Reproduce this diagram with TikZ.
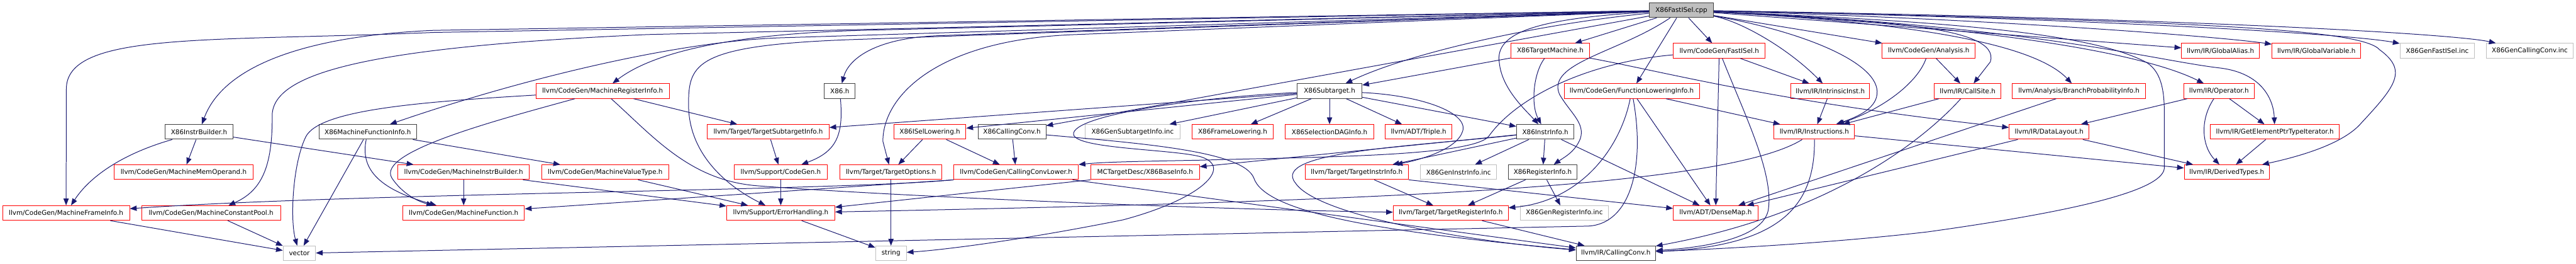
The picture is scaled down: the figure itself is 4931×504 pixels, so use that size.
\documentclass[tikz,border=0pt]{standalone}
\usepackage{fontspec}
\setmainfont{DejaVu Sans}
\usetikzlibrary{arrows.meta}
\definecolor{edgec}{HTML}{191970}
\definecolor{redc}{HTML}{FF0000}
\definecolor{grayc}{HTML}{BFBFBF}
\definecolor{blkc}{HTML}{404040}
\definecolor{rootfill}{HTML}{BFBFBF}
\newcommand{\dxfont}{\fontsize{6.25pt}{7.5pt}\selectfont}
\begin{document}
\begin{tikzpicture}[x=0.5pt,y=-0.5pt,
  nb/.style={draw, rectangle, inner sep=0pt, minimum height=14pt, line width=0.6pt, font=\dxfont, text=black},
  rn/.style={nb, draw=redc},
  bn/.style={nb, draw=blkc},
  gn/.style={nb, draw=grayc},
  rootn/.style={nb, draw=blkc, fill=rootfill},
  dep/.style={draw=edgec, line width=0.6pt, -{Triangle[length=6.5pt,width=5pt]}}]
\useasboundingbox (0,0) rectangle (4931,504);
\fill[white] (0,0) rectangle (4931,504);
% row 0
\node[rootn, minimum width=123*0.5pt] (R) at (3218.5,19.5) {X86FastISel.cpp};
% row 1
\node[rn, minimum width=151*0.5pt] (TM) at (2967.5,97) {X86TargetMachine.h};
\node[rn, minimum width=176*0.5pt] (FISel) at (3291,97) {llvm/CodeGen/FastISel.h};
\node[rn, minimum width=178*0.5pt] (Anal) at (3692,97) {llvm/CodeGen/Analysis.h};
\node[rn, minimum width=149*0.5pt] (GAlias) at (4250.5,97) {llvm/IR/GlobalAlias.h};
\node[rn, minimum width=170*0.5pt] (GVar) at (4434,97) {llvm/IR/GlobalVariable.h};
\node[gn, minimum width=143*0.5pt] (GenFI) at (4665.5,97) {X86GenFastISel.inc};
\node[gn, minimum width=167*0.5pt] (GenCC) at (4842.5,97) {X86GenCallingConv.inc};
% row 2
\node[rn, minimum width=255*0.5pt] (MRI) at (1153.5,174) {llvm/CodeGen/MachineRegisterInfo.h};
\node[bn, minimum width=59*0.5pt] (X86h) at (1607.5,174) {X86.h};
\node[bn, minimum width=124*0.5pt] (Sub) at (2545,174) {X86Subtarget.h};
\node[rn, minimum width=259*0.5pt] (FLI) at (3123.5,174) {llvm/CodeGen/FunctionLoweringInfo.h};
\node[rn, minimum width=151*0.5pt] (Intr) at (3503.5,174) {llvm/IR/IntrinsicInst.h};
\node[rn, minimum width=127*0.5pt] (CS) at (3766.5,174) {llvm/IR/CallSite.h};
\node[rn, minimum width=255*0.5pt] (BPI) at (3979.5,174) {llvm/Analysis/BranchProbabilityInfo.h};
\node[rn, minimum width=135*0.5pt] (Oper) at (4247.5,174) {llvm/IR/Operator.h};
% row 3
\node[bn, minimum width=130*0.5pt] (IB) at (381,252) {X86InstrBuilder.h};
\node[bn, minimum width=186*0.5pt] (MFI) at (704,252) {X86MachineFunctionInfo.h};
\node[rn, minimum width=233*0.5pt] (TSI) at (1470.5,252) {llvm/Target/TargetSubtargetInfo.h};
\node[rn, minimum width=138*0.5pt] (ISL) at (1780,252) {X86ISelLowering.h};
\node[bn, minimum width=130*0.5pt] (XCC) at (1937,252) {X86CallingConv.h};
\node[gn, minimum width=182*0.5pt] (GenST) at (2168,252) {X86GenSubtargetInfo.inc};
\node[rn, minimum width=155*0.5pt] (FL) at (2359.5,252) {X86FrameLowering.h};
\node[rn, minimum width=170*0.5pt] (SDAG) at (2545,252) {X86SelectionDAGInfo.h};
\node[rn, minimum width=127*0.5pt] (Trip) at (2715.5,252) {llvm/ADT/Triple.h};
\node[bn, minimum width=110*0.5pt] (II) at (2958,252) {X86InstrInfo.h};
\node[rn, minimum width=154*0.5pt] (Ins) at (3473,252) {llvm/IR/Instructions.h};
\node[rn, minimum width=153*0.5pt] (DL) at (3922.5,252) {llvm/IR/DataLayout.h};
\node[rn, minimum width=247*0.5pt] (GEP) at (4354.5,252) {llvm/IR/GetElementPtrTypeIterator.h};
% row 4
\node[rn, minimum width=267*0.5pt] (MMO) at (351.5,329) {llvm/CodeGen/MachineMemOperand.h};
\node[rn, minimum width=251*0.5pt] (MIB) at (887.5,329) {llvm/CodeGen/MachineInstrBuilder.h};
\node[rn, minimum width=243*0.5pt] (MVT) at (1158.5,329) {llvm/CodeGen/MachineValueType.h};
\node[rn, minimum width=179*0.5pt] (CG) at (1494.5,329) {llvm/Support/CodeGen.h};
\node[rn, minimum width=195*0.5pt] (TO) at (1705.5,329) {llvm/Target/TargetOptions.h};
\node[rn, minimum width=238*0.5pt] (CCL) at (1945,329) {llvm/CodeGen/CallingConvLower.h};
\node[rn, minimum width=208*0.5pt] (XBI) at (2192,329) {MCTargetDesc/X86BaseInfo.h};
\node[rn, minimum width=198*0.5pt] (TII) at (2597,329) {llvm/Target/TargetInstrInfo.h};
\node[gn, minimum width=146*0.5pt] (GenII) at (2792,329) {X86GenInstrInfo.inc};
\node[bn, minimum width=132*0.5pt] (RI) at (2953,329) {X86RegisterInfo.h};
\node[rn, minimum width=163*0.5pt] (DT) at (4262.5,329) {llvm/IR/DerivedTypes.h};
% row 5
\node[rn, minimum width=243*0.5pt] (MFrame) at (126.5,407) {llvm/CodeGen/MachineFrameInfo.h};
\node[rn, minimum width=266*0.5pt] (MCP) at (404,407) {llvm/CodeGen/MachineConstantPool.h};
\node[rn, minimum width=233*0.5pt] (MF) at (887.5,407) {llvm/CodeGen/MachineFunction.h};
\node[rn, minimum width=207*0.5pt] (EH) at (1494.5,407) {llvm/Support/ErrorHandling.h};
\node[rn, minimum width=220*0.5pt] (TRI) at (2777,407) {llvm/Target/TargetRegisterInfo.h};
\node[gn, minimum width=169*0.5pt] (GenRI) at (2994.5,407) {X86GenRegisterInfo.inc};
\node[rn, minimum width=162*0.5pt] (DM) at (3284,407) {llvm/ADT/DenseMap.h};
% row 6
\node[gn, minimum width=62*0.5pt] (vec) at (573,484) {vector};
\node[gn, minimum width=59*0.5pt] (str) at (1705.5,484) {string};
\node[bn, minimum width=152*0.5pt] (CC) at (3093,484) {llvm/IR/CallingConv.h};

% ---- edges from the root
\draw[dep] (R) -- (TM);
\draw[dep] (R) -- (FISel);
\draw[dep] (R) -- (Anal);
\draw[dep] (R) -- (GAlias);
\draw[dep] (R) .. controls (3800,35) and (4250,70) .. (GVar);
\draw[dep] (R) .. controls (4000,35) and (4500,65) .. (GenFI);
\draw[dep] (R) .. controls (4200,35) and (4700,65) .. (GenCC);
\draw[dep] (R) -- (830,62) .. controls (400,80) and (127,60) .. (127,170) -- (MFrame);
\draw[dep] (R) -- (830,58) .. controls (600,68) and (430,120) .. (IB);
\draw[dep] (R) -- (1240,66) .. controls (700,90) and (523,140) .. (521,220) .. controls (522,320) and (500,365) .. (MCP);
\draw[dep] (R) -- (1500,72) .. controls (1300,78) and (1000,150) .. (MFI);
\draw[dep] (R) -- (1650,58) .. controls (1400,65) and (1250,100) .. (MRI);
\draw[dep] (R) -- (1800,68) .. controls (1680,72) and (1625,110) .. (X86h);
\draw[dep] (R) -- (1650,75) .. controls (1330,85) and (1318,120) .. (1318,200) .. controls (1318,300) and (1400,360) .. (EH);
\draw[dep] (R) -- (2060,66) .. controls (1800,75) and (1690,180) .. (1690,270) -- (TO);
\draw[dep] (R) -- (XCC);
\draw[dep] (R) .. controls (2950,45) and (2700,100) .. (Sub);
\draw[dep] (R) .. controls (2950,35) and (2860,60) .. (2870,120) .. controls (2875,170) and (2920,210) .. (II);
\draw[dep] (R) -- (FLI);
\draw[dep] (R) .. controls (3100,100) and (2960,120) .. (2985,180) .. controls (3005,215) and (3035,235) .. (3025,265) .. controls (3015,290) and (2995,300) .. (RI);
\draw[dep] (R) .. controls (3330,40) and (3420,90) .. (Intr);
\draw[dep] (R) .. controls (3450,60) and (3600,120) .. (3593,180) .. controls (3590,210) and (3550,225) .. (Ins);
\draw[dep] (R) .. controls (3600,40) and (3830,50) .. (3810,118) -- (CS);
\draw[dep] (R) .. controls (3700,45) and (3900,90) .. (BPI);
\draw[dep] (R) .. controls (3800,50) and (4100,100) .. (Oper);
\draw[dep] (R) .. controls (3900,50) and (4120,115) .. (4250,130) .. controls (4330,140) and (4352,190) .. (GEP);
\draw[dep] (R) .. controls (4200,40) and (4520,55) .. (4555,95) .. controls (4610,135) and (4585,165) .. (4520,235) .. controls (4490,270) and (4420,295) .. (DT);
\draw[dep] (R) .. controls (3700,40) and (4000,60) .. (4110,120) .. controls (4140,140) and (4143,180) .. (4143,220) -- (4143,320) .. controls (4143,360) and (4000,400) .. (3690,443) .. controls (3500,465) and (3300,475) .. (CC);

% ---- X86TargetMachine.h
\draw[dep] (TM) -- (Sub);
\draw[dep] (TM) .. controls (2935,140) and (2930,200) .. (II);
\draw[dep] (TM) .. controls (3200,140) and (3400,195) .. (DL);

% ---- X86Subtarget.h
\draw[dep] (Sub) -- (ISL);
\draw[dep] (Sub) -- (TSI);
\draw[dep] (Sub) -- (GenST);
\draw[dep] (Sub) -- (FL);
\draw[dep] (Sub) -- (SDAG);
\draw[dep] (Sub) -- (Trip);
\draw[dep] (Sub) -- (II);
\draw[dep] (Sub) .. controls (2720,182) and (2810,215) .. (2800,250) .. controls (2790,285) and (2720,305) .. (TII);
\draw[dep] (Sub) .. controls (2300,185) and (2050,220) .. (2055,257) .. controls (2060,285) and (2250,285) .. (2300,300) .. controls (2360,320) and (2300,380) .. (2150,420) .. controls (1950,460) and (1800,478) .. (str);

% ---- X86ISelLowering.h, X86CallingConv.h
\draw[dep] (ISL) -- (TO);
\draw[dep] (ISL) -- (CCL);
\draw[dep] (XCC) -- (CCL);
\draw[dep] (XCC) .. controls (2200,275) and (2380,290) .. (2400,340) .. controls (2420,400) and (2600,440) .. (CC);

% ---- CallingConvLower.h
\draw[dep] (CCL.south west) .. controls (1600,365) and (700,368) .. (MFrame);
\draw[dep] (CCL.south west) -- (MF);
\draw[dep] (CCL) -- (CC);

% ---- FastISel.h
\draw[dep] (FISel) -- (Intr);
\draw[dep] (FISel) -- (DM);
\draw[dep] (FISel) .. controls (3340,220) and (3395,330) .. (3385,400) .. controls (3378,445) and (3300,470) .. (CC);
\draw[dep] (FISel) .. controls (3030,120) and (2900,190) .. (2850,260) .. controls (2820,300) and (2500,300) .. (2300,306) .. controls (2200,308) and (2120,309) .. (CCL.north east);

% ---- Analysis.h, CallSite.h, BranchProbabilityInfo.h
\draw[dep] (Anal) -- (CS);
\draw[dep] (Anal) .. controls (3670,160) and (3600,210) .. (Ins);
\draw[dep] (CS) -- (Ins);
\draw[dep] (CS) .. controls (3680,270) and (3500,410) .. (CC);
\draw[dep] (BPI) -- (DM);

% ---- DataLayout.h, Operator.h, GEP
\draw[dep] (DL) -- (DM);
\draw[dep] (DL) -- (DT);
\draw[dep] (Oper) -- (DL);
\draw[dep] (Oper) -- (GEP);
\draw[dep] (Oper) .. controls (4210,230) and (4215,280) .. (DT);
\draw[dep] (GEP) -- (DT);

% ---- IntrinsicInst.h, Instructions.h
\draw[dep] (Intr) -- (Ins);
\draw[dep] (Ins) .. controls (3300,360) and (2600,385) .. (EH);
\draw[dep] (Ins) .. controls (3475,400) and (3400,470) .. (CC);
\draw[dep] (Ins) -- (DT);

% ---- X86InstrInfo.h
\draw[dep] (II) -- (RI);
\draw[dep] (II) -- (DM);
\draw[dep] (II) -- (GenII);
\draw[dep] (II) -- (TII);
\draw[dep] (II) -- (XBI);
\draw[dep] (II) .. controls (2700,280) and (2430,290) .. (2480,350) .. controls (2520,410) and (2800,460) .. (CC);

% ---- X86RegisterInfo.h, TargetInstrInfo.h, TargetRegisterInfo.h
\draw[dep] (RI) -- (GenRI);
\draw[dep] (RI) -- (TRI);
\draw[dep] (TII) -- (TRI);
\draw[dep] (TII.south east) -- (DM);
\draw[dep] (TRI) -- (CC);

% ---- FunctionLoweringInfo.h
\draw[dep] (FLI) -- (Ins);
\draw[dep] (FLI) -- (DM);
\draw[dep] (FLI) .. controls (3100,290) and (3020,385) .. (TRI);
\draw[dep] (FLI) .. controls (3150,320) and (3120,428) .. (3040,432) -- (vec);

% ---- MachineRegisterInfo.h
\draw[dep] (MRI) -- (TSI);
\draw[dep] (MRI) .. controls (950,230) and (720,290) .. (750,340) .. controls (770,370) and (800,385) .. (MF);
\draw[dep] (MRI) .. controls (800,195) and (610,210) .. (585,262) .. controls (560,314) and (555,420) .. (vec);
\draw[dep] (MRI) .. controls (1250,260) and (1320,345) .. (1450,355) .. controls (1700,374) and (2300,400) .. (TRI);

% ---- X86MachineFunctionInfo.h
\draw[dep] (MFI) -- (vec);
\draw[dep] (MFI) .. controls (690,320) and (720,360) .. (MF);
\draw[dep] (MFI) -- (MVT);

% ---- X86InstrBuilder.h
\draw[dep] (IB) .. controls (230,295) and (170,340) .. (MFrame);
\draw[dep] (IB) -- (MMO);
\draw[dep] (IB) -- (MIB);

% ---- lower left
\draw[dep] (MIB) -- (MF);
\draw[dep] (MIB) -- (EH);
\draw[dep] (MVT) -- (EH);
\draw[dep] (TSI) -- (CG);
\draw[dep] (X86h) .. controls (1615,260) and (1600,290) .. (CG);
\draw[dep] (CG) -- (EH);
\draw[dep] (EH) -- (str);
\draw[dep] (TO) -- (str);
\draw[dep] (XBI.south west) -- (EH);
\draw[dep] (MFrame) -- (vec);
\draw[dep] (MCP) -- (vec);
\end{tikzpicture}
\end{document}
